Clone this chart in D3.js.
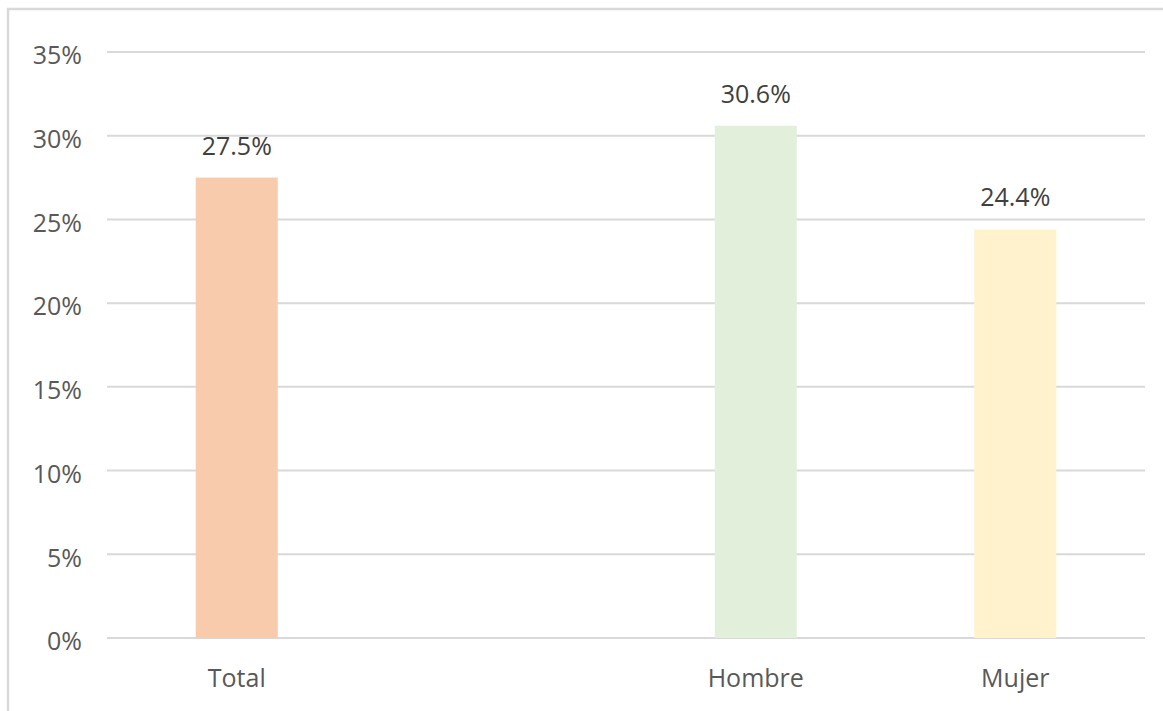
<!DOCTYPE html>
<html>
<head>
<meta charset="utf-8">
<script src="https://cdn.jsdelivr.net/npm/d3@7"></script>
<style>
  html, body { margin: 0; padding: 0; background: #fff; }
  svg { display: block; }
  text { font-family: "Open Sans", "Noto Sans", sans-serif; }
</style>
</head>
<body>
<svg id="chart" width="1163" height="711"></svg>
<script>
// Categories (an empty slot sits between Total and Hombre)
const categories = ["Total", "", "Hombre", "Mujer"];
const values = [27.5, null, 30.6, 24.4];
const barColors = ["#F8CBAD", "none", "#E2EFDA", "#FFF2CC"];
const yTicks = [0, 5, 10, 15, 20, 25, 30, 35];

const svg = d3.select("#chart");
const W = 1163, H = 711;
const margin = { left: 107, right: 18, top: 52, bottom: 73 };
const plotW = W - margin.left - margin.right;
const plotH = H - margin.top - margin.bottom;
const fontSize = "25px";

// Outer chart frame
svg.append("rect")
  .attr("x", 8).attr("y", 9)
  .attr("width", W + 10).attr("height", H + 10)
  .attr("fill", "none")
  .attr("stroke", "#d9d9d9")
  .attr("stroke-width", 2.5);

const g = svg.append("g").attr("transform", `translate(${margin.left},${margin.top})`);

const x = d3.scaleBand()
  .domain(d3.range(categories.length))
  .range([0, plotW])
  .paddingInner(0.684)
  .paddingOuter(0.342);

const y = d3.scaleLinear().domain([0, 35]).range([plotH, 0]);

// Gridlines
g.append("g")
  .selectAll("line")
  .data(yTicks)
  .join("line")
  .attr("x1", 0).attr("x2", plotW)
  .attr("y1", d => y(d)).attr("y2", d => y(d))
  .attr("stroke", "#d9d9d9")
  .attr("stroke-width", 2);

// Y axis labels
const yAxis = g.append("g")
  .call(d3.axisLeft(y).tickValues(yTicks).tickFormat(d => d + "%").tickSize(0).tickPadding(25));
yAxis.select(".domain").remove();
yAxis.selectAll("text")
  .attr("fill", "#595959")
  .style("font-size", fontSize)
  .attr("dy", "0.47em");

// Bars
const idx = d3.range(categories.length).filter(i => values[i] !== null);
g.append("g")
  .selectAll("rect")
  .data(idx)
  .join("rect")
  .attr("x", i => x(i))
  .attr("width", x.bandwidth())
  .attr("y", i => y(values[i]))
  .attr("height", i => plotH - y(values[i]))
  .attr("fill", i => barColors[i]);

// Value labels
g.append("g")
  .selectAll("text")
  .data(idx)
  .join("text")
  .attr("x", i => x(i) + x.bandwidth() / 2)
  .attr("y", i => y(values[i]) - 23)
  .attr("text-anchor", "middle")
  .attr("fill", "#404040")
  .style("font-size", fontSize)
  .text(i => values[i].toFixed(1) + "%");

// Category labels
const xAxis = g.append("g")
  .attr("transform", `translate(0,${plotH})`)
  .call(d3.axisBottom(x).tickFormat(i => categories[i]).tickSize(0).tickPadding(31));
xAxis.select(".domain").remove();
xAxis.selectAll("text")
  .attr("fill", "#595959")
  .style("font-size", fontSize);
</script>
</body>
</html>
